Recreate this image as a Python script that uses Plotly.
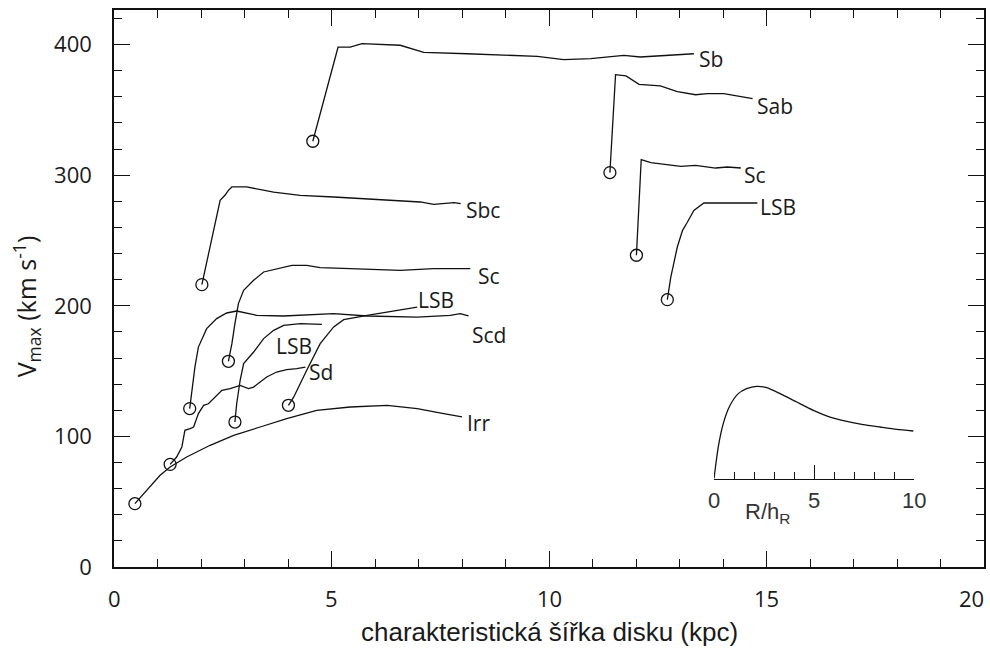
import plotly.graph_objects as go

# Rotation curves: characteristic disk scale length (kpc) vs. rotation velocity (km/s)
sb_x = [4.57, 5.15, 5.43, 5.70, 6.58, 7.12, 8.12, 9.73, 10.34, 10.96, 11.72, 12.10, 13.33]
sb_y = [326, 398, 398, 400.8, 399.5, 394, 393, 391, 388.5, 389.3, 391.8, 390.5, 393]

sab_x = [11.40, 11.53, 11.77, 12.07, 12.56, 12.95, 13.37, 13.64, 14.02, 14.41, 14.68]
sab_y = [302, 377, 376, 369.6, 368.4, 364, 361.6, 362.5, 362.5, 360.4, 358.7]

sc2_x = [12.01, 12.12, 12.34, 12.64, 13.03, 13.37, 13.83, 14.10, 14.41]
sc2_y = [238.7, 312, 309.6, 308.3, 306.8, 307.6, 305.5, 306.3, 305.5]

lsb3_x = [12.72, 12.80, 12.95, 13.07, 13.18, 13.33, 13.56, 14.79]
lsb3_y = [204.7, 222, 245, 257.8, 264, 273, 278.7, 278.7]

sbc_x = [2.02, 2.09, 2.17, 2.24, 2.32, 2.36, 2.44, 2.55, 2.63, 2.71, 3.05, 3.67, 4.28,
         5.05, 5.82, 6.58, 7.04, 7.35, 7.58, 7.82, 7.97]
sbc_y = [216.2, 227, 240, 252.7, 263, 270.6, 280.8, 284.6, 288.4, 291, 291, 287, 284.6,
         283.3, 282, 280.8, 279.5, 277.7, 278.2, 279, 278.2]

sc1_x = [2.63, 2.71, 2.78, 2.86, 2.98, 3.21, 3.44, 3.74, 4.09, 4.43, 4.74, 5.43, 6.58, 7.35, 8.19]
sc1_y = [157.5, 171, 186.4, 201.7, 211.9, 219.5, 225.9, 228.5, 231, 231, 229.2, 228.5, 227.2, 228.5, 228.5]

scd_x = [1.74, 1.79, 1.86, 1.94, 2.13, 2.36, 2.59, 2.82, 3.05, 3.28, 3.90, 5.05, 5.82, 6.97,
         7.73, 7.96, 8.15]
scd_y = [121.3, 135.3, 153, 168.4, 182.5, 190.2, 194.5, 196, 194.5, 192.7, 192.2, 194, 192.2,
         191.4, 192.7, 194, 192.2]

lsb1_x = [2.78, 2.82, 2.90, 2.98, 3.21, 3.44, 3.67, 3.90, 4.28, 4.78]
lsb1_y = [111, 125, 143, 155.7, 164.6, 174.9, 181.2, 185, 186.4, 185.8]

lsb2_x = [4.01, 4.13, 4.43, 4.74, 5.05, 5.28, 5.82, 6.97]
lsb2_y = [123.8, 130, 150.6, 171, 183.8, 189.4, 192.7, 199]

sd_x = [1.29, 1.44, 1.56, 1.63, 1.75, 1.83, 1.94, 2.06, 2.17, 2.32, 2.48, 2.67, 2.90, 3.09,
        3.21, 3.36, 3.51, 3.74, 3.97, 4.20, 4.40]
sd_y = [78.6, 84.2, 91.9, 104.7, 106, 107.2, 117.5, 123.8, 125, 130.2, 135.3, 136.6, 139.1,
        136.6, 137.8, 141.7, 145.5, 149.3, 151.1, 151.9, 153.1]

irr_x = [0.48, 0.75, 1.06, 1.29, 1.67, 2.21, 2.75, 3.36, 3.97, 4.66, 5.43, 6.28, 6.97, 7.58, 8.00]
irr_y = [48.5, 58.7, 70.2, 76.6, 84.2, 93.2, 100.8, 107.2, 113.6, 120, 122.5, 123.8, 121.3, 117.5, 114.9]

# Inset: generic disk rotation curve vs. R/h_R (arbitrary velocity units)
inset_r = [0, 0.05, 0.21, 0.46, 0.80, 1.21, 1.63, 2.13, 2.63, 3.30, 4.13, 4.96, 5.79, 6.63,
           7.45, 8.29, 9.12, 9.95]
inset_v = [0, 8.3, 31.6, 55, 73.3, 85, 90, 92.3, 91, 85, 76.6, 68.3, 61.6, 57.3, 54, 51.6,
           49.3, 47.6]

x_ticks = [0, 5, 10, 15, 20]
y_ticks = [0, 100, 200, 300, 400]
inset_ticks = [0, 5, 10]

# (x, y, label, label x-shift px, label y-shift px, anchor)
curves = [
    (sb_x, sb_y, "Sb", 3, -5, "left"),
    (sab_x, sab_y, "Sab", 2, -7, "left"),
    (sc2_x, sc2_y, "Sc", 1, -7, "left"),
    (lsb3_x, lsb3_y, "LSB", 1, -4, "left"),
    (sbc_x, sbc_y, "Sbc", 3, -6, "left"),
    (sc1_x, sc1_y, "Sc", 6, -7, "left"),
    (scd_x, scd_y, "Scd", 1, -19, "left"),
    (lsb1_x, lsb1_y, "LSB", -28, -22, "center"),
    (lsb2_x, lsb2_y, "LSB", -1, 7, "left"),
    (sd_x, sd_y, "Sd", 2, -5, "left"),
    (irr_x, irr_y, "Irr", 3, -6, "left"),
]

LINE = "#111111"
TICK_FONT = dict(family="Open Sans, Noto Sans, sans-serif", size=22, color="#1a1a1a")
LABEL_FONT = dict(family="Open Sans, Noto Sans, sans-serif", size=21, color="#1a1a1a")
INSET_FONT = dict(family="Liberation Sans, Arial, sans-serif", size=22, color="#333333")

fig = go.Figure()

annotations = []
for xs, ys, label, dx, dy, anchor in curves:
    fig.add_trace(go.Scatter(x=xs, y=ys, mode="lines",
                             line=dict(color=LINE, width=1.3),
                             showlegend=False, hoverinfo="skip"))
    fig.add_trace(go.Scatter(x=[xs[0]], y=[ys[0]], mode="markers",
                             marker=dict(symbol="circle-open", size=12, color=LINE,
                                         line=dict(color=LINE, width=1.3)),
                             showlegend=False, hoverinfo="skip"))
    annotations.append(dict(x=xs[-1], y=ys[-1], xref="x", yref="y", text=label,
                            showarrow=False, xanchor=anchor, yanchor="middle",
                            xshift=dx, yshift=dy, font=LABEL_FONT))

fig.add_trace(go.Scatter(x=inset_r, y=inset_v, mode="lines", xaxis="x2", yaxis="y2",
                         line=dict(color=LINE, width=1.3, shape="spline", smoothing=0.6),
                         showlegend=False, hoverinfo="skip"))

# x tick labels; the last one is kept inside the page
for i, t in enumerate(x_ticks):
    last = i == len(x_ticks) - 1
    annotations.append(dict(x=t, y=0, xref="x", yref="paper", text=str(t),
                            showarrow=False, xanchor="right" if last else "center",
                            yanchor="middle", xshift=2 if last else 0, yshift=-31,
                            font=TICK_FONT))

# inset tick labels
for t in inset_ticks:
    annotations.append(dict(x=t, y=0, xref="x2", yref="y2", text=str(t),
                            showarrow=False, xanchor="center", yanchor="middle",
                            yshift=-22, font=INSET_FONT))

annotations += [
    dict(text="charakteristická šířka disku (kpc)", xref="paper", yref="paper",
         x=0.5, y=-0.117, xanchor="center", yanchor="middle", showarrow=False,
         font=dict(family="Liberation Sans, Arial, sans-serif", size=26, color="#1a1a1a")),
    dict(text="V<sub>max</sub> (km s<sup>-1</sup>)", xref="paper", yref="paper",
         x=-0.1, y=0.468, xanchor="center", yanchor="middle", textangle=-90,
         showarrow=False,
         font=dict(family="Open Sans, Noto Sans, sans-serif", size=25, color="#1a1a1a")),
    dict(text="R/h<sub>R</sub>", xref="paper", yref="paper",
         x=0.7506, y=0.0962, xanchor="center", yanchor="middle", showarrow=False,
         font=INSET_FONT),
]

axis_common = dict(showline=True, linecolor=LINE, linewidth=1.5, mirror="allticks",
                   ticks="inside", tickwidth=1.3, tickcolor=LINE, ticklen=16,
                   showgrid=False, zeroline=False, tickfont=TICK_FONT, automargin=False)

fig.update_layout(
    width=990, height=650,
    margin=dict(l=114, r=6, t=10, b=83, autoexpand=False),
    paper_bgcolor="white", plot_bgcolor="white",
    xaxis=dict(range=[0, 20], tickvals=x_ticks, showticklabels=False,
               minor=dict(ticks="inside", dtick=1, ticklen=8, tickwidth=1.3, tickcolor=LINE),
               **axis_common),
    yaxis=dict(range=[0, 426.5], tickvals=y_ticks, ticklabelstandoff=16,
               minor=dict(ticks="inside", dtick=20, ticklen=8, tickwidth=1.3, tickcolor=LINE),
               **axis_common),
    xaxis2=dict(domain=[0.6897, 0.9199], anchor="y2", range=[0, 10], tickvals=inset_ticks,
                showline=True, linecolor=LINE, linewidth=1.2, ticks="inside", ticklen=14,
                tickwidth=1.1, tickcolor=LINE, showgrid=False, zeroline=False,
                showticklabels=False, automargin=False,
                minor=dict(ticks="inside", dtick=1, ticklen=7, tickwidth=1.1, tickcolor=LINE)),
    yaxis2=dict(domain=[0.1587, 0.3382], anchor="x2", range=[0, 100], visible=False),
    annotations=annotations,
)

fig.write_html("out.html")
